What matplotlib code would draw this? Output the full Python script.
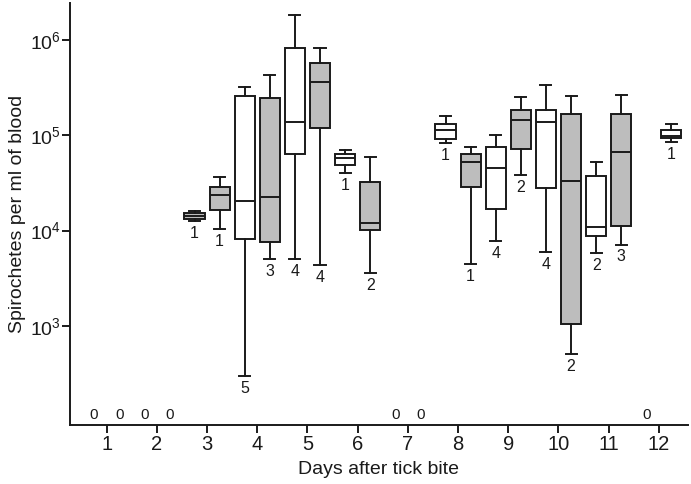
import matplotlib
matplotlib.use("Agg")
import matplotlib.pyplot as plt
import matplotlib.transforms as mtransforms

plt.rcParams['font.family'] = ['Liberation Sans', 'DejaVu Sans']

days = [1, 2, 3, 4, 5, 6, 7, 8, 9, 10, 11, 12]

# Left series per day: (whisker low, Q1, median, Q3, whisker high); None = no data
left_low = [None, None, 12700, 299, 5080, 40300, None, 82400, 7800, 5970, 5840, None]
left_q1 = [None, None, 13300, 8100, 63000, 48500, None, 90800, 16700, 28300, 8790, None]
left_med = [None, None, 14300, 20300, 139000, 57400, None, 114000, 45100, 138000, 10800, None]
left_q3 = [None, None, 15400, 261000, 830000, 63700, None, 131000, 76000, 183000, 37100, None]
left_high = [None, None, 16200, 319000, 1850000, 70100, None, 161000, 100000, 337000, 52500, None]
left_n = [0, 0, 1, 5, 4, 1, 0, 1, 4, 4, 2, 0]

# Right series per day
right_low = [None, None, 10300, 5000, 4370, 3570, None, 4500, 38400, 508, 7130, 85700]
right_q1 = [None, None, 16400, 7600, 120000, 10200, None, 28700, 71900, 1060, 11300, 93100]
right_med = [None, None, 23800, 22500, 362000, 12100, None, 52800, 145000, 33400, 66300, 99000]
right_q3 = [None, None, 28700, 247000, 574000, 32400, None, 64200, 184000, 166000, 168000, 115000]
right_high = [None, None, 36800, 427000, 830000, 59300, None, 76000, 254000, 257000, 265000, 132000]
right_n = [0, 0, 1, 3, 4, 2, 0, 1, 2, 2, 3, 1]

# box fills (style)
GRAY = '#bdbdbd'
WHITE = 'white'
left_fill = [WHITE, WHITE, GRAY, WHITE, WHITE, WHITE, WHITE, WHITE, WHITE, WHITE, WHITE, WHITE]
right_fill = [GRAY] * 11 + [WHITE]

fig = plt.figure(figsize=(6.91, 4.84), dpi=100)
ax = fig.add_axes([70 / 691, 1 - 425 / 484, 618 / 691, 422 / 484])

OFF = 0.25
BW = 0.40
LW = 1.4
INK = '#1a1a1a'


def draw(low, q1, med, q3, high, counts, fills, off):
    trans = mtransforms.blended_transform_factory(ax.transData, ax.transAxes)
    for i, d in enumerate(days):
        pos = d + off
        if low[i] is None:
            ax.text(pos, 0.024, str(counts[i]), transform=trans, ha='center',
                    va='center', fontsize=11, color=INK)
            continue
        st = dict(whislo=low[i], q1=q1[i], med=med[i], q3=q3[i], whishi=high[i],
                  fliers=[])
        ax.bxp([st], positions=[pos], widths=BW, showfliers=False,
               patch_artist=True, capwidths=[0.22],
               boxprops=dict(facecolor=fills[i], edgecolor=INK, linewidth=LW),
               medianprops=dict(color=INK, linewidth=LW),
               whiskerprops=dict(color=INK, linewidth=LW),
               capprops=dict(color=INK, linewidth=LW))
        ax.annotate(str(counts[i]), xy=(pos, low[i]), xytext=(0, -3.5),
                    textcoords='offset points', ha='center', va='top',
                    fontsize=11.5, color=INK)


draw(left_low, left_q1, left_med, left_q3, left_high, left_n, left_fill, -OFF)
draw(right_low, right_q1, right_med, right_q3, right_high, right_n, right_fill, OFF)

ax.set_yscale('log')
ax.set_ylim(10 ** 1.961, 10 ** 6.388)
ax.set_xlim(0.27, 12.58)
ax.set_yticks([1e3, 1e4, 1e5, 1e6])
ax.set_yticklabels([r'$\mathregular{10^{3}}$', r'$\mathregular{10^{4}}$',
                    r'$\mathregular{10^{5}}$', r'$\mathregular{10^{6}}$'])
ax.yaxis.set_minor_locator(matplotlib.ticker.NullLocator())
ax.set_xticks(days)
ax.set_xticklabels([str(d) for d in days])

for s in ['top', 'right']:
    ax.spines[s].set_visible(False)
for s in ['left', 'bottom']:
    ax.spines[s].set_linewidth(1.4)
    ax.spines[s].set_color(INK)
ax.tick_params(axis='both', direction='out', length=5.5, width=1.4, colors=INK,
               labelcolor=INK)
ax.tick_params(axis='x', labelsize=14.5, pad=2)
ax.tick_params(axis='y', labelsize=14, pad=1)

ax.set_xlabel('Days after tick bite', fontsize=14, labelpad=5, color=INK)
ax.set_ylabel('Spirochetes per ml of blood', fontsize=14, labelpad=3, color=INK)

fig.savefig('out.png', dpi=100)
